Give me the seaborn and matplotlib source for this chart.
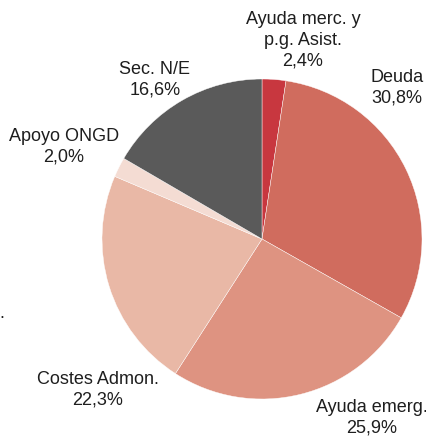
import matplotlib
matplotlib.use("Agg")
import matplotlib.pyplot as plt
import seaborn as sns

# data (clockwise from 12 o'clock)
categories = ["Ayuda merc. y\np.g. Asist.", "Deuda", "Ayuda emerg.",
              "Costes Admon.", "Apoyo ONGD", "Sec. N/E"]
shares = [2.4, 30.8, 25.9, 22.3, 2.0, 16.6]
colors = ["#C8373F", "#D06C5E", "#DE9381", "#E9B8A6", "#F4DCD3", "#5A5A5A"]

# label anchor points in pixel coordinates (x, y from top)
label_pos = [(303, 40), (397, 88), (372, 418), (98, 390), (64, 147), (155, 80)]

W, H = 427, 439

sns.set_theme(style="white")
plt.rcParams["font.family"] = ["Liberation Sans", "DejaVu Sans"]

fig = plt.figure(figsize=(W / 100, H / 100), dpi=100)
ax = fig.add_axes([0, 0, 1, 1])

ax.pie(shares, colors=colors, startangle=90, counterclock=False,
       center=(262, H - 240), radius=160,
       wedgeprops=dict(linewidth=0.3, edgecolor="white"))

ax.set_xlim(0, W)
ax.set_ylim(0, H)
ax.set_aspect("equal")
ax.axis("off")

for name, val, (x, y) in zip(categories, shares, label_pos):
    txt = f"{name}\n" + f"{val:.1f}".replace(".", ",") + "%"
    ax.text(x, H - y, txt, ha="center", va="center", fontsize=13,
            color="#1e1e1e", linespacing=1.3)

ax.text(2, H - 313, ".", ha="center", va="center", fontsize=13, color="#1e1e1e")

fig.savefig("out.png", dpi=100)
